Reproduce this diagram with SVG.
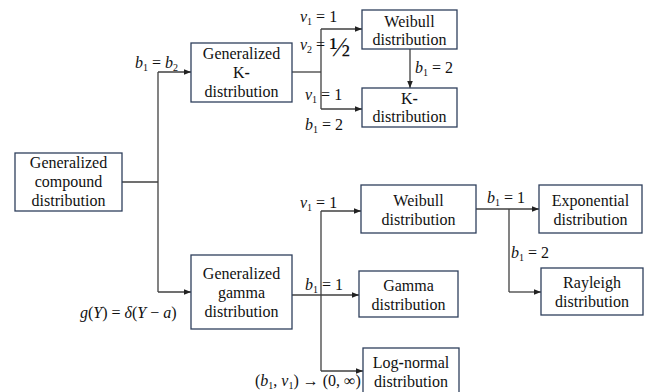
<svg xmlns="http://www.w3.org/2000/svg" width="649" height="392" viewBox="0 0 649 392">
<defs>
<style>
.box{fill:#fff;stroke:#2e3f5c;stroke-width:1.3}
text{font-family:'Liberation Serif','Times New Roman','DejaVu Serif',serif}
.t{font-size:16px;fill:#111;text-anchor:middle}
.m{font-size:16px;fill:#111}
.i{font-style:italic}
.s{font-size:10px}
.c{fill:none;stroke:#404040;stroke-width:1.3}
</style>
<marker id="a" viewBox="0 0 10 10" refX="10" refY="5" markerWidth="7" markerHeight="7" markerUnits="userSpaceOnUse" orient="auto">
<path d="M0,1 L10,5 L0,9 Z" fill="#222"/>
</marker>
</defs>
<rect width="649" height="392" fill="#fff"/>
<g id="connectors">
<path class="c" d="M122,182 H158"/>
<path class="c" d="M158,72 V292"/>
<path class="c" d="M158,72 H191" marker-end="url(#a)"/>
<path class="c" d="M158,292 H191" marker-end="url(#a)"/>
<path class="c" d="M292,72 H321"/>
<path class="c" d="M321,29 V109"/>
<path class="c" d="M321,29 H362" marker-end="url(#a)"/>
<path class="c" d="M321,109 H362" marker-end="url(#a)"/>
<path class="c" d="M410,49 V88" marker-end="url(#a)"/>
<path class="c" d="M292,295 H359" marker-end="url(#a)"/>
<path class="c" d="M321,211 V371"/>
<path class="c" d="M321,211 H361" marker-end="url(#a)"/>
<path class="c" d="M321,371 H363" marker-end="url(#a)"/>
<path class="c" d="M476,209 H539" marker-end="url(#a)"/>
<path class="c" d="M509,209 V292"/>
<path class="c" d="M509,292 H541" stroke="#999" marker-end="url(#a)"/>
</g>
<g id="labels">
<text class="m" x="135" y="68"><tspan class="i">b</tspan><tspan class="s" dy="3">1</tspan><tspan dy="-3"> = </tspan><tspan class="i">b</tspan><tspan class="s" dy="3">2</tspan></text>
<text class="m" x="300" y="22"><tspan class="i">v</tspan><tspan class="s" dy="3">1</tspan><tspan dy="-3"> = 1</tspan></text>
<text class="m" x="300" y="50"><tspan class="i">v</tspan><tspan class="s" dy="3">2</tspan><tspan dy="-3"> = </tspan><tspan font-size="28" dy="6">½</tspan></text>
<text class="m" x="305" y="100"><tspan class="i">v</tspan><tspan class="s" dy="3">1</tspan><tspan dy="-3"> = 1</tspan></text>
<text class="m" x="305" y="130"><tspan class="i">b</tspan><tspan class="s" dy="3">1</tspan><tspan dy="-3"> = 2</tspan></text>
<text class="m" x="415" y="73"><tspan class="i">b</tspan><tspan class="s" dy="3">1</tspan><tspan dy="-3"> = 2</tspan></text>
<text class="m" x="80" y="318" font-size="17"><tspan class="i">g</tspan>(<tspan class="i">Y</tspan>) = <tspan class="i">δ</tspan>(<tspan class="i">Y</tspan> − <tspan class="i">a</tspan>)</text>
<text class="m" x="300" y="208"><tspan class="i">v</tspan><tspan class="s" dy="3">1</tspan><tspan dy="-3"> = 1</tspan></text>
<text class="m" x="305" y="290"><tspan class="i">b</tspan><tspan class="s" dy="3">1</tspan><tspan dy="-3"> = 1</tspan></text>
<text class="m" x="255" y="386">(<tspan class="i">b</tspan><tspan class="s" dy="3">1</tspan><tspan dy="-3">, </tspan><tspan class="i">v</tspan><tspan class="s" dy="3">1</tspan><tspan dy="-3">) → (0, ∞)</tspan></text>
<text class="m" x="487" y="203"><tspan class="i">b</tspan><tspan class="s" dy="3">1</tspan><tspan dy="-3"> = 1</tspan></text>
<text class="m" x="511" y="258"><tspan class="i">b</tspan><tspan class="s" dy="3">1</tspan><tspan dy="-3"> = 2</tspan></text>
</g>
<g id="compound">
<rect class="box" x="15" y="153" width="107" height="58"/>
<text class="t" x="68.5" y="168">Generalized</text>
<text class="t" x="68.5" y="187">compound</text>
<text class="t" x="68.5" y="206">distribution</text>
</g>
<g id="genK">
<rect class="box" x="191" y="43" width="101" height="59"/>
<text class="t" x="241.5" y="59">Generalized</text>
<text class="t" x="241.5" y="78">K<tspan font-weight="bold">-</tspan></text>
<text class="t" x="241.5" y="97">distribution</text>
</g>
<g id="weibull1">
<rect class="box" x="362" y="10" width="95" height="39"/>
<text class="t" x="409.5" y="27">Weibull</text>
<text class="t" x="409.5" y="45">distribution</text>
</g>
<g id="kdist">
<rect class="box" x="362" y="88" width="95" height="39"/>
<text class="t" x="409.5" y="104">K<tspan font-weight="bold">-</tspan></text>
<text class="t" x="409.5" y="122">distribution</text>
</g>
<g id="genGamma">
<rect class="box" x="191" y="255" width="101" height="74"/>
<text class="t" x="241.5" y="279">Generalized</text>
<text class="t" x="241.5" y="298">gamma</text>
<text class="t" x="241.5" y="317">distribution</text>
</g>
<g id="weibull2">
<rect class="box" x="361" y="185" width="115" height="48"/>
<text class="t" x="418.5" y="206">Weibull</text>
<text class="t" x="418.5" y="225">distribution</text>
</g>
<g id="gamma">
<rect class="box" x="359" y="271" width="99" height="46"/>
<text class="t" x="408.5" y="291">Gamma</text>
<text class="t" x="408.5" y="310">distribution</text>
</g>
<g id="lognormal">
<rect class="box" x="363" y="348" width="96" height="50"/>
<text class="t" x="411" y="368">Log<tspan font-weight="bold">-</tspan>normal</text>
<text class="t" x="411" y="387">distribution</text>
</g>
<g id="exponential">
<rect class="box" x="539" y="185" width="103" height="48"/>
<text class="t" x="590.5" y="206">Exponential</text>
<text class="t" x="590.5" y="225">distribution</text>
</g>
<g id="rayleigh">
<rect class="box" x="541" y="268" width="102" height="47"/>
<text class="t" x="592" y="288">Rayleigh</text>
<text class="t" x="592" y="307">distribution</text>
</g>
</svg>
